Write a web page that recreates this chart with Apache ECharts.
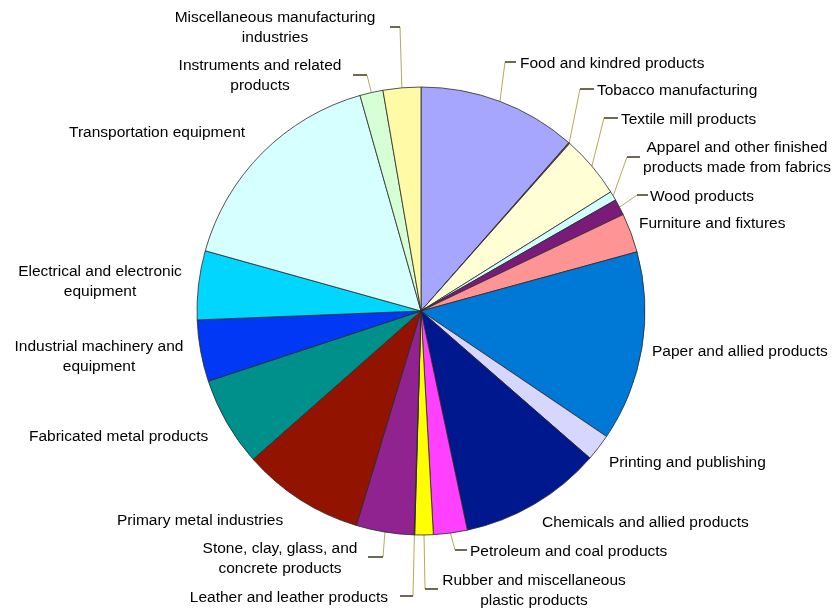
<!DOCTYPE html>
<html>
<head>
<meta charset="utf-8">
<script src="https://cdn.jsdelivr.net/npm/echarts@6/dist/echarts.min.js"></script>
<style>
  html, body { margin: 0; padding: 0; background: #ffffff; }
  #chart { width: 835px; height: 612px; }
</style>
</head>
<body>
<div id="chart"></div>
<script>
// Industries, in clockwise order from twelve o'clock
const industries = [
  'Food and kindred products',
  'Tobacco manufacturing',
  'Textile mill products',
  'Apparel and other finished\nproducts made from fabrics',
  'Wood products',
  'Furniture and fixtures',
  'Paper and allied products',
  'Printing and publishing',
  'Chemicals and allied products',
  'Petroleum and coal products',
  'Rubber and miscellaneous\nplastic products',
  'Leather and leather products',
  'Stone, clay, glass, and\nconcrete products',
  'Primary metal industries',
  'Fabricated metal products',
  'Industrial machinery and\nequipment',
  'Electrical and electronic\nequipment',
  'Transportation equipment',
  'Instruments and related\nproducts',
  'Miscellaneous manufacturing\nindustries'
];

// Share of the total, percent
const shares = [
  11.47, 0.08, 4.53, 0.67, 1.17, 2.83, 13.72, 1.94, 10.28, 2.44,
  1.33, 0.04, 4.17, 8.83, 6.44, 4.44, 4.97, 16.28, 1.67, 2.72
];

const sliceColors = [
  '#a6a6ff', '#993366', '#fffed4', '#d2ffff', '#7a1b7a', '#ff9494',
  '#0078d6', '#d6d6ff', '#00188e', '#ff40ff', '#ffff00', '#00ffff',
  '#902390', '#921400', '#00908c', '#0038f5', '#00d6ff', '#d6ffff',
  '#d6ffd6', '#fffaa6'
];

// Label anchor: [x, y, align]  (y is the vertical middle of the text block)
const labelAnchor = [
  [520, 62, 'left'],
  [597, 89, 'left'],
  [621, 118, 'left'],
  [737, 156, 'center'],
  [650, 195, 'left'],
  [639, 222, 'left'],
  [652, 350, 'left'],
  [609, 461, 'left'],
  [542, 521, 'left'],
  [470, 550, 'left'],
  [534, 589, 'center'],
  [388, 596, 'right'],
  [280, 557, 'center'],
  [117, 519, 'left'],
  [29, 435, 'left'],
  [99, 355, 'center'],
  [100, 280, 'center'],
  [69, 131, 'left'],
  [260, 74, 'center'],
  [275, 26, 'center']
];
const textNudgeY = 1.5;

// Leader elbow: [bendX, bendY, endX]; null = no leader line
const leaderBend = [
  [505, 62, 516],
  [580, 89, 594],
  [604, 118, 618],
  [627, 157, 640],
  [637, 195, 648],
  null, null, null, null,
  [455, 550, 467],
  [425, 589, 438],
  [413, 596, 400],
  [383, 557, 368],
  null, null, null, null, null,
  [367, 75, 353],
  [400, 27, 390]
];

const font = { fontFamily: '"Liberation Sans", Arial, sans-serif', fontSize: 15.5, lineHeight: 20 };

const sliceData = industries.map((name, i) => ({
  name: name,
  value: shares[i],
  itemStyle: { color: sliceColors[i] },
  labelLine: { show: leaderBend[i] !== null }
}));

function placeLabel(p, withStart) {
  const i = p.dataIndex;
  const a = labelAnchor[i];
  const out = { x: a[0], y: a[1] + textNudgeY, align: a[2], verticalAlign: 'middle' };
  const b = leaderBend[i];
  if (b && p.labelLinePoints) {
    const s = p.labelLinePoints[0];
    out.labelLinePoints = withStart
      ? [[s[0], s[1]], [b[0], b[1]], [b[2], b[1]]]
      : [[b[0], b[1]], [b[2], b[1]]];
  }
  return out;
}

const chart = echarts.init(document.getElementById('chart'), null, { renderer: 'canvas' });

chart.setOption({
  backgroundColor: '#ffffff',
  animation: false,
  series: [
    {
      // slices with olive leader lines running out to the labels
      type: 'pie',
      center: [421, 311],
      radius: 224,
      startAngle: 90,
      clockwise: true,
      avoidLabelOverlap: false,
      silent: true,
      itemStyle: { borderColor: '#2a2a2a', borderWidth: 0.8 },
      label: Object.assign({ show: true, position: 'outside', color: '#000000' }, font),
      labelLine: { show: true, length: 10, length2: 10, lineStyle: { color: '#b8a955', width: 1 } },
      labelLayout: p => placeLabel(p, true),
      data: sliceData
    },
    {
      // short black tick where each leader meets its label
      type: 'pie',
      center: [421, 311],
      radius: 224,
      startAngle: 90,
      clockwise: true,
      avoidLabelOverlap: false,
      silent: true,
      z: 3,
      itemStyle: { color: 'rgba(0,0,0,0)', borderWidth: 0 },
      label: Object.assign({ show: true, position: 'outside', color: 'rgba(0,0,0,0)' }, font),
      labelLine: { show: true, length: 10, length2: 10, lineStyle: { color: '#000000', width: 1 } },
      labelLayout: p => placeLabel(p, false),
      data: industries.map((name, i) => ({
        name: name,
        value: shares[i],
        itemStyle: { color: 'rgba(0,0,0,0)' },
        labelLine: { show: leaderBend[i] !== null }
      }))
    }
  ]
});
</script>
</body>
</html>
